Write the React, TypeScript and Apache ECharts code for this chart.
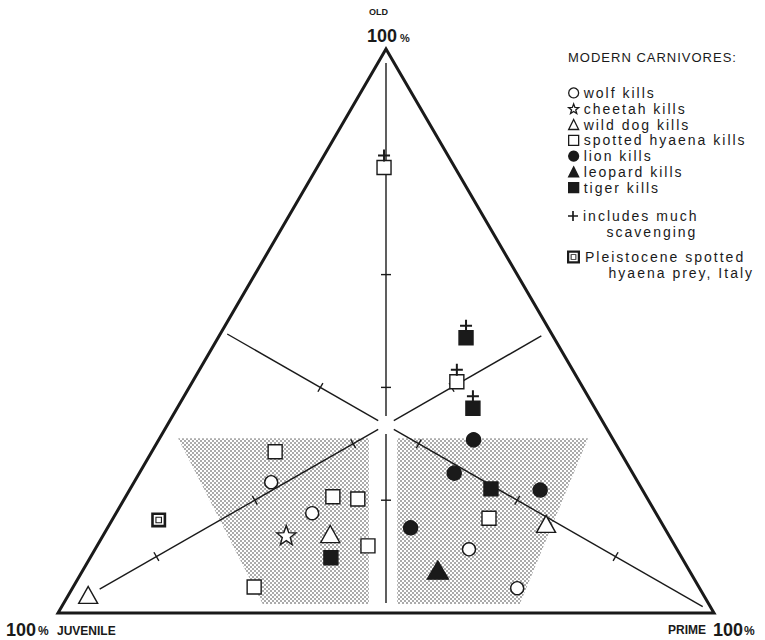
import React, { useEffect, useRef } from "react";
import * as echarts from "echarts";

// ---- Data: each point is [juvenile %, prime %, old %] ----
const wolfKills = [[55.9, 20.9, 23.2], [52.4, 29.9, 17.7], [31.7, 57.0, 11.3], [27.8, 67.8, 4.4]];
const cheetahKills = [[58.3, 27.9, 13.8]];
const wildDogKills = [[93.8, 3.0, 3.2], [51.5, 34.5, 14.0], [17.7, 66.5, 15.8]];
const spottedHyaenaKills = [
  [10.8, 10.2, 79.0], [52.6, 18.8, 28.6], [47.8, 31.6, 20.6], [44.2, 35.6, 20.2],
  [46.8, 41.3, 11.9], [67.8, 27.6, 4.6], [18.7, 40.3, 41.0], [25.9, 57.3, 16.8],
];
const lionKills = [[21.3, 48.0, 30.7], [27.2, 48.0, 24.8], [15.6, 62.6, 21.8], [38.7, 46.2, 15.1]];
const leopardKills = [[38.3, 54.1, 7.6]];
const tigerKills = [[53.5, 36.7, 9.8], [13.4, 37.8, 48.8], [18.6, 45.1, 36.3], [23.0, 55.0, 22.0]];
const muchScavenging = [[10.8, 10.2, 79.0], [13.4, 37.8, 48.8], [18.7, 40.3, 41.0], [18.6, 45.1, 36.3]];
const pleistoceneHyaenaPrey = [[76.4, 7.1, 16.5]];
const shadedZones = [
  [[66.2, 2.8, 31.0], [37.1, 31.9, 31.0], [51.8, 46.6, 1.6], [68.0, 30.4, 1.6]],
  [[32.8, 36.2, 31.0], [3.7, 65.3, 31.0], [28.8, 69.6, 1.6], [47.5, 50.9, 1.6]],
];
const vertices = [[100, 0, 0], [0, 100, 0], [0, 0, 100]]; // juvenile, prime, old corners
const tickPercents = [80, 60, 40, 20];

const carnivoreNames = [
  "wolf kills", "cheetah kills", "wild dog kills", "spotted hyaena kills",
  "lion kills", "leopard kills", "tiger kills",
];
const scavengingName = "includes much scavenging";
const pleistoceneName = "Pleistocene spotted hyaena prey, Italy";

// ternary -> cartesian (x: 0..100 along base, y: old %)
const toXY = (t: number[]) => [t[1] + t[2] / 2, t[2]];

const INK = "#1a1a1a";
const FONT = "'Liberation Sans', Arial, Helvetica, sans-serif";

const starPath =
  "path://" +
  Array.from({ length: 10 }, (_, k) => {
    const r = k % 2 === 0 ? 50 : 21;
    const a = -Math.PI / 2 + (k * Math.PI) / 5;
    return (k === 0 ? "M" : "L") + (50 + r * Math.cos(a)).toFixed(2) + "," + (50 + r * Math.sin(a)).toFixed(2);
  }).join("") +
  "Z";
const plusPath = "path://M5,0H7V5H12V7H7V12H5V7H0V5H5Z";
const doubleSquarePath =
  "path://M0,0H15V15H0Z M2.6,2.6V12.4H12.4V2.6Z M4.2,4.2H10.8V10.8H4.2Z M5.3,5.3V9.7H9.7V5.3Z";

const css = `
.ternary-chart svg text[style*="14px"] { letter-spacing: 2px; }
.ternary-chart svg text[font-size="14"] { letter-spacing: 2px; }
.ternary-chart svg text[style*="13px"] { letter-spacing: 1px; }
.ternary-chart svg text[font-size="13"] { letter-spacing: 1px; }
`;

export default function App() {
  const ref = useRef<HTMLDivElement>(null);
  useEffect(() => {
    if (!ref.current) return;
    const chart = echarts.init(ref.current, null, { renderer: "svg" });

    const tile = document.createElement("canvas");
    tile.width = 4;
    tile.height = 4;
    const ctx = tile.getContext("2d")!;
    ctx.fillStyle = "#ffffff";
    ctx.fillRect(0, 0, 4, 4);
    ctx.fillStyle = "#ababab";
    ctx.fillRect(0, 0, 2, 2);
    ctx.fillRect(2, 2, 2, 2);
    const stipple: any = { image: tile, repeat: "repeat", imageWidth: 4, imageHeight: 4 };

    const medianStart = [48, 13, 14];
    const medianEnd = [10, 6, 10];

    const renderMedian = (_params: any, api: any) => {
      const i = api.value(0);
      const v = vertices[i];
      const others = vertices.filter((_, k) => k !== i);
      const mid = [0, 1, 2].map((k) => (others[0][k] + others[1][k]) / 2);
      const at = (t: number) => api.coord(toXY(v.map((c, k) => c + (mid[k] - c) * t)));
      const a = at(0);
      const b = at(1);
      const len = Math.hypot(b[0] - a[0], b[1] - a[1]);
      const ux = (b[0] - a[0]) / len;
      const uy = (b[1] - a[1]) / len;
      const px = (d: number) => [a[0] + ux * d, a[1] + uy * d];
      const line = (p: number[], q: number[]) => ({
        type: "line",
        shape: { x1: p[0], y1: p[1], x2: q[0], y2: q[1] },
        style: { stroke: INK, lineWidth: 1.4 },
      });
      const c = (len * 2) / 3;
      const gap = 9;
      const children: any[] = [
        line(px(medianStart[i]), px(c - gap)),
        line(px(c + gap), px(len - medianEnd[i])),
      ];
      tickPercents.forEach((p) => {
        const q = at(1 - p / 100);
        children.push(line([q[0] - uy * 5, q[1] + ux * 5], [q[0] + uy * 5, q[1] - ux * 5]));
      });
      return { type: "group", children };
    };

    const hollow = { color: "#ffffff", borderColor: INK, borderWidth: 1.4, opacity: 1 };
    const solid = { color: INK, borderColor: INK, borderWidth: 1.4, opacity: 1 };
    const scatter = (name: string, pts: number[][], symbol: string, size: any, itemStyle: any, extra: any = {}) => ({
      type: "scatter",
      name,
      data: pts.map(toXY),
      symbol,
      symbolSize: size,
      itemStyle,
      z: 5,
      emphasis: { disabled: true },
      ...extra,
    });

    const textEl = (text: string, x: number, y: number, size: number) => ({
      type: "text",
      x,
      y,
      style: {
        text,
        fontFamily: FONT,
        fontSize: size,
        fontWeight: "bold",
        fill: INK,
        verticalAlign: "middle",
        textVerticalAlign: "middle",
      },
    });

    const legendText = { fontFamily: FONT, fontSize: 14, lineHeight: 15.8, color: INK };

    chart.setOption({
      animation: false,
      backgroundColor: "#ffffff",
      title: {
        text: "MODERN CARNIVORES:",
        left: 568,
        top: 51,
        padding: 0,
        textStyle: { fontFamily: FONT, fontSize: 13, fontWeight: "normal", color: INK },
      },
      grid: { left: 58, top: 49, width: 656, height: 564 },
      xAxis: { type: "value", min: 0, max: 100, show: false },
      yAxis: { type: "value", min: 0, max: 100, show: false },
      legend: [
        {
          data: carnivoreNames,
          orient: "vertical",
          left: 568,
          top: 85,
          padding: 0,
          itemGap: 0,
          itemWidth: 10,
          itemHeight: 10,
          textStyle: legendText,
          itemStyle: { borderWidth: 1.3 },
        },
        {
          data: [scavengingName],
          orient: "vertical",
          left: 568,
          top: 192.3,
          padding: 0,
          itemWidth: 10,
          itemHeight: 10,
          formatter: () => "\nincludes much\n\u00a0\u00a0\u00a0\u00a0scavenging",
          textStyle: legendText,
          itemStyle: { borderWidth: 0 },
        },
        {
          data: [pleistoceneName],
          orient: "vertical",
          left: 567,
          top: 233.3,
          padding: 0,
          itemWidth: 13,
          itemHeight: 13,
          formatter: () => "\nPleistocene spotted\n\u00a0\u00a0\u00a0\u00a0hyaena prey, Italy",
          textStyle: legendText,
          itemStyle: { borderWidth: 0 },
        },
      ],
      graphic: [
        textEl("OLD", 369, 12, 9),
        textEl("100", 367, 36, 18),
        textEl("%", 400, 38, 11),
        textEl("100", 6, 630, 18),
        textEl("%", 38, 631, 12),
        textEl("JUVENILE", 57, 631, 12),
        textEl("PRIME", 668, 630, 12),
        textEl("100", 713, 630, 18),
        textEl("%", 744, 631, 12),
      ],
      series: [
        {
          type: "custom",
          name: "shaded zones",
          clip: false,
          z: 1,
          silent: true,
          data: shadedZones.map((_, i) => [i]),
          renderItem: (_p: any, api: any) => ({
            type: "polygon",
            shape: { points: shadedZones[api.value(0)].map((t) => api.coord(toXY(t))) },
            style: { fill: stipple, stroke: "none" },
          }),
        },
        {
          type: "custom",
          name: "medians",
          clip: false,
          z: 2,
          silent: true,
          data: vertices.map((_, i) => [i]),
          renderItem: renderMedian,
        },
        {
          type: "custom",
          name: "triangle",
          clip: false,
          z: 3,
          silent: true,
          data: [[0]],
          renderItem: (_p: any, api: any) => ({
            type: "polygon",
            shape: { points: vertices.map((t) => api.coord(toXY(t))) },
            style: { fill: "none", stroke: INK, lineWidth: 3, lineJoin: "miter" },
          }),
        },
        scatter("wolf kills", wolfKills, "circle", 13, hollow),
        scatter("cheetah kills", cheetahKills, starPath, 19, hollow),
        scatter("wild dog kills", wildDogKills, "triangle", [19, 17], hollow),
        scatter("spotted hyaena kills", spottedHyaenaKills, "rect", 14, hollow),
        scatter("lion kills", lionKills, "circle", 14, solid),
        scatter("leopard kills", leopardKills, "triangle", [21, 18], solid),
        scatter("tiger kills", tigerKills, "rect", 14, solid),
        scatter(scavengingName, muchScavenging, plusPath, 12, { color: INK, borderWidth: 0, opacity: 1 }, { symbolOffset: [0, -12], z: 6 }),
        scatter(pleistoceneName, pleistoceneHyaenaPrey, doubleSquarePath, 15, { color: INK, borderWidth: 0, opacity: 1 }),
      ],
    });
    return () => chart.dispose();
  }, []);

  return (
    <>
      <style>{css}</style>
      <div
        ref={ref}
        className="ternary-chart"
        style={{ position: "absolute", left: 0, top: 0, width: 765, height: 640, background: "#fff" }}
      />
    </>
  );
}
